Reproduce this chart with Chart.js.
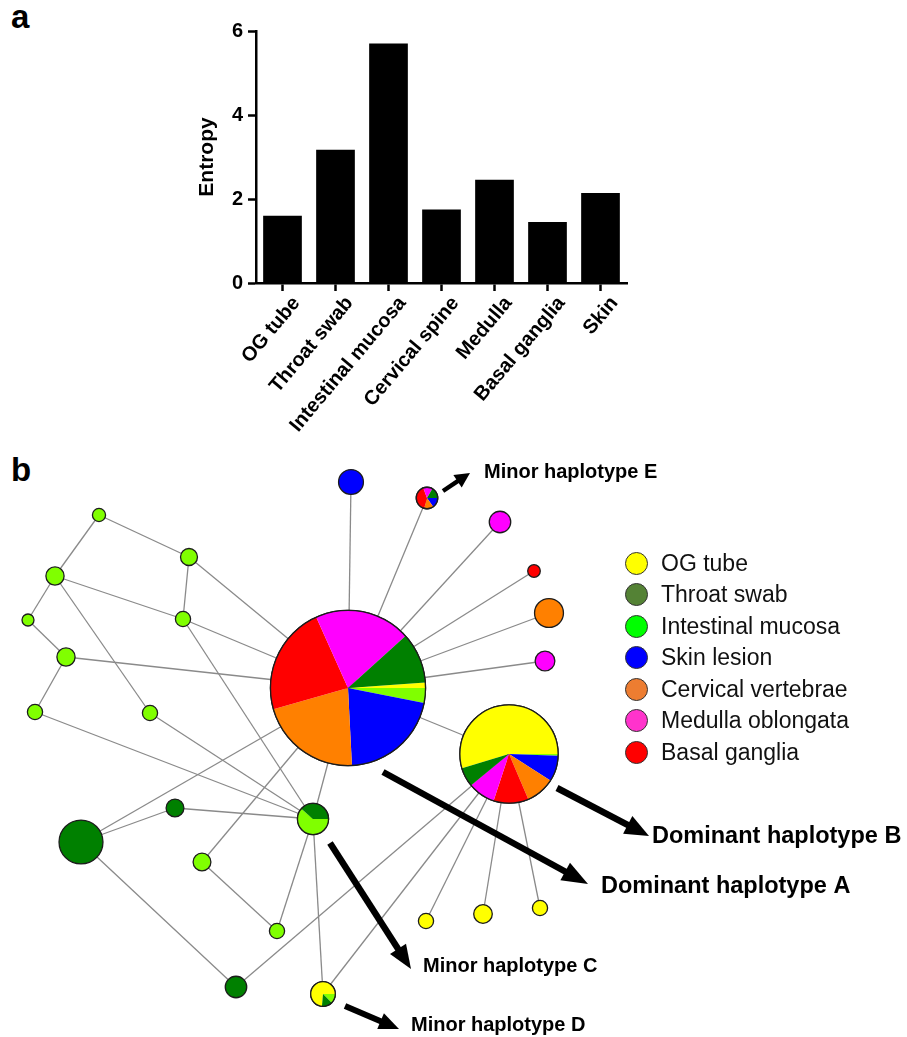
<!DOCTYPE html>
<html>
<head>
<meta charset="utf-8">
<title>Entropy and haplotype network</title>
<script src="https://cdn.jsdelivr.net/npm/chart.js@4.4.1/dist/chart.umd.min.js"></script>
<style>
  html, body { margin: 0; padding: 0; background: #fff; }
  body { position: relative; width: 907px; height: 1037px; overflow: hidden;
         font-family: "Liberation Sans", Arial, Helvetica, sans-serif; }
  #entropyChart { position: absolute; left: 0; top: 0; }
  #networkChart { position: absolute; left: 0; top: 450px; }
  .panel { position: absolute; left: 11px; font-weight: bold; font-size: 33px; line-height: 1; color: #000; }
  .legend-row { position: absolute; left: 625px; height: 30px; display: flex; align-items: center; }
  .legend-dot { width: 23px; height: 23px; border-radius: 50%; border: 1.5px solid #333; box-sizing: border-box; }
  .legend-text { position: absolute; left: 36px; white-space: nowrap; font-size: 23px; color: #111; }
</style>
</head>
<body>
<div class="panel" style="top:0px">a</div>
<div class="panel" style="top:453px">b</div>
<canvas id="entropyChart" width="907" height="450"></canvas>
<canvas id="networkChart" width="907" height="587"></canvas>
<div id="legend"></div>

<script>
// ---------- Panel a: Shannon entropy per sample ----------
const tissues = ['OG tube', 'Throat swab', 'Intestinal mucosa', 'Cervical spine', 'Medulla', 'Basal ganglia', 'Skin'];
const entropy = [1.6, 3.17, 5.7, 1.75, 2.46, 1.45, 2.14];
const entropyTicks = [0, 2, 4, 6];

// ---------- Panel b: haplotype network ----------
const sources = ['OG tube', 'Throat swab', 'Intestinal mucosa', 'Skin lesion', 'Cervical vertebrae', 'Medulla oblongata', 'Basal ganglia'];

// haplotype ids and their layout coordinates
const hapIds = ['A', 'B', 'h03', 'E', 'h05', 'h06', 'h07', 'h08', 'h09', 'h10', 'h11', 'h12', 'h13',
                'h14', 'h15', 'h16', 'h17', 'h18', 'C', 'h20', 'h21', 'h22', 'D', 'h24', 'h25', 'h26'];
const hapX = [348, 509, 351, 427, 500, 534, 549, 545, 99, 189, 55, 28, 183,
              66, 35, 150, 81, 175, 313, 202, 277, 236, 323, 426, 483, 540];
const hapY = [688, 754, 482, 498, 522, 571, 613, 661, 515, 557, 576, 620, 619,
              657, 712, 713, 842, 808, 819, 862, 931, 987, 994, 921, 914, 908];
// relative haplotype frequency
const hapFreq = [167, 67, 4.3, 3.2, 3.2, 1.1, 5.8, 2.7, 1.2, 2.0, 2.3, 1.0, 1.6,
                 2.3, 1.6, 1.6, 13.4, 2.2, 6.7, 2.2, 1.6, 3.2, 4.2, 1.6, 2.4, 1.6];

// share (%) of each source in each haplotype, columns follow `sources`
const hapComposition = [
  [1.1, 10.6, 3.1, 21.1, 21.4, 20.0, 22.7],   // A
  [54.7, 6.3, 0.6, 8.5, 9.5, 8.9, 11.5],      // B
  [0, 0, 0, 100, 0, 0, 0],
  [0, 16.7, 0, 15.3, 13.9, 13.9, 40.2],       // E
  [0, 0, 0, 0, 0, 100, 0],
  [0, 0, 0, 0, 0, 0, 100],
  [0, 0, 0, 0, 100, 0, 0],
  [0, 0, 0, 0, 0, 100, 0],
  [0, 0, 100, 0, 0, 0, 0],
  [0, 0, 100, 0, 0, 0, 0],
  [0, 0, 100, 0, 0, 0, 0],
  [0, 0, 100, 0, 0, 0, 0],
  [0, 0, 100, 0, 0, 0, 0],
  [0, 0, 100, 0, 0, 0, 0],
  [0, 0, 100, 0, 0, 0, 0],
  [0, 0, 100, 0, 0, 0, 0],
  [0, 100, 0, 0, 0, 0, 0],
  [0, 100, 0, 0, 0, 0, 0],
  [0, 38.6, 61.4, 0, 0, 0, 0],                // C
  [0, 0, 100, 0, 0, 0, 0],
  [0, 0, 100, 0, 0, 0, 0],
  [0, 100, 0, 0, 0, 0, 0],
  [73.6, 13.9, 12.5, 0, 0, 0, 0],             // D
  [100, 0, 0, 0, 0, 0, 0],
  [100, 0, 0, 0, 0, 0, 0],
  [100, 0, 0, 0, 0, 0, 0]
];

// mutational links between haplotypes (indices into hapIds)
const links = [
  [0, 2], [0, 3], [0, 4], [0, 5], [0, 6], [0, 7], [0, 1],
  [0, 9], [0, 12], [0, 13], [0, 18], [0, 19], [0, 16],
  [8, 9], [8, 10], [9, 12], [10, 12], [10, 11], [11, 13], [13, 14], [10, 15],
  [12, 18], [15, 18], [14, 18],
  [16, 17], [17, 18], [16, 21], [19, 20], [20, 18], [18, 22],
  [21, 1], [22, 1], [23, 1], [24, 1], [25, 1]
];

// ---------- styling ----------
const FONT = '"Liberation Sans", Arial, Helvetica, sans-serif';
const nodeColors = ['#FFFF00', '#008000', '#80FF00', '#0000FF', '#FF8000', '#FF00FF', '#FF0000'];
const legendColors = ['#FFFF00', '#548235', '#00FF00', '#0000FF', '#ED7D31', '#FF33CC', '#FF0000'];
// clockwise order in which the wedges of a pie node are laid out
const wedgeOrder = [0, 2, 3, 4, 6, 5, 1];
// angle (deg, clockwise from 3 o'clock) where the first wedge starts
const pieStart = { A: -4, B: 163, C: 0, D: 95, E: 0 };
const radiusOf = f => 6 * Math.sqrt(f);

// callout arrows and their captions, in layout coordinates
const callouts = [
  { text: 'Minor haplotype E',    from: [443, 491], to: [470, 473], at: [484, 478],  size: 20, shaft: 4.5, headLen: 15, headHalf: 7.5 },
  { text: 'Dominant haplotype A', from: [383, 772], to: [588, 884], at: [601, 893],  size: 23.5, shaft: 6.5, headLen: 26, headHalf: 10 },
  { text: 'Dominant haplotype B', from: [557, 788], to: [649, 836], at: [652, 843],  size: 23.5, shaft: 6.5, headLen: 24, headHalf: 10 },
  { text: 'Minor haplotype C',    from: [330, 843], to: [411, 969], at: [423, 972],  size: 20, shaft: 6.5, headLen: 24, headHalf: 9.5 },
  { text: 'Minor haplotype D',    from: [345, 1006], to: [399, 1029], at: [411, 1031], size: 20, shaft: 6, headLen: 20, headHalf: 8.5 }
];

// ---------- Panel a chart ----------
new Chart(document.getElementById('entropyChart'), {
  type: 'bar',
  data: {
    labels: tissues,
    datasets: [{
      data: entropy,
      backgroundColor: '#000',
      borderWidth: 0,
      barPercentage: 0.73,
      categoryPercentage: 1
    }]
  },
  options: {
    responsive: false,
    animation: false,
    events: [],
    layout: { padding: { left: 176, right: 280, top: 31, bottom: 7 } },
    plugins: { legend: { display: false }, tooltip: { enabled: false } },
    scales: {
      x: {
        grid: { drawOnChartArea: false, drawTicks: true, tickLength: 8, tickWidth: 2.5, tickColor: '#000', offset: false },
        border: { display: true, color: '#000', width: 2.5 },
        ticks: { color: '#000', autoSkip: false, maxRotation: 50, minRotation: 50, padding: 1, labelOffset: 14,
                 font: { family: FONT, weight: 'bold', size: 20 } },
        afterFit: s => { s.height = 160; }
      },
      y: {
        min: 0, max: 6,
        grid: { drawOnChartArea: false, drawTicks: true, tickLength: 8, tickWidth: 2.5, tickColor: '#000' },
        border: { display: true, color: '#000', width: 2.5 },
        ticks: { color: '#000', padding: 5, font: { family: FONT, weight: 'bold', size: 20 } },
        afterBuildTicks: s => { s.ticks = entropyTicks.map(v => ({ value: v })); },
        title: { display: true, text: 'Entropy', color: '#000', padding: { top: 19, bottom: 0 },
                 font: { family: FONT, weight: 'bold', size: 21 } },
        afterFit: s => { s.width = 80; }
      }
    }
  }
});

// ---------- Panel b chart ----------
const isMixed = hapComposition.map(c => c.filter(v => v > 0).length > 1);
const mainSource = hapComposition.map(c => c.indexOf(Math.max(...c)));

const linkDatasets = links.map(([a, b]) => ({
  type: 'line',
  data: [{ x: hapX[a], y: hapY[a] }, { x: hapX[b], y: hapY[b] }],
  borderColor: '#8a8a8a',
  borderWidth: 1.3,
  pointRadius: 0,
  fill: false,
  tension: 0,
  order: 2
}));

const nodeDataset = {
  type: 'bubble',
  data: hapX.map((x, i) => ({ x: x, y: hapY[i], r: radiusOf(hapFreq[i]) })),
  backgroundColor: hapX.map((_, i) => isMixed[i] ? 'rgba(0,0,0,0)' : nodeColors[mainSource[i]]),
  borderColor: '#1c1c1c',
  borderWidth: 1.3,
  hoverRadius: 0,
  order: 0
};

// draws the source wedges of mixed haplotypes on top of their bubbles
const pieWedges = {
  id: 'pieWedges',
  afterDatasetsDraw(chart) {
    const idx = chart.data.datasets.indexOf(nodeDataset);
    const meta = chart.getDatasetMeta(idx);
    const ctx = chart.ctx;
    meta.data.forEach((el, i) => {
      if (!isMixed[i]) return;
      const r = el.options.radius;
      const total = hapComposition[i].reduce((s, v) => s + v, 0);
      let a = (pieStart[hapIds[i]] || 0) * Math.PI / 180;
      ctx.save();
      wedgeOrder.forEach(src => {
        const share = hapComposition[i][src];
        if (!share) return;
        const sweep = share / total * Math.PI * 2;
        ctx.beginPath();
        ctx.moveTo(el.x, el.y);
        ctx.arc(el.x, el.y, r, a, a + sweep);
        ctx.closePath();
        ctx.fillStyle = nodeColors[src];
        ctx.fill();
        a += sweep;
      });
      ctx.beginPath();
      ctx.arc(el.x, el.y, r, 0, Math.PI * 2);
      ctx.lineWidth = 1.3;
      ctx.strokeStyle = '#1c1c1c';
      ctx.stroke();
      ctx.restore();
    });
  }
};

// callout arrows with captions
const calloutLayer = {
  id: 'calloutLayer',
  afterDraw(chart) {
    const { ctx, scales } = chart;
    const px = p => [scales.x.getPixelForValue(p[0]), scales.y.getPixelForValue(p[1])];
    ctx.save();
    callouts.forEach(c => {
      const [x0, y0] = px(c.from);
      const [x1, y1] = px(c.to);
      const len = Math.hypot(x1 - x0, y1 - y0);
      const ux = (x1 - x0) / len, uy = (y1 - y0) / len;
      const bx = x1 - ux * c.headLen, by = y1 - uy * c.headLen;
      ctx.strokeStyle = '#000';
      ctx.fillStyle = '#000';
      ctx.lineWidth = c.shaft;
      ctx.lineCap = 'butt';
      ctx.beginPath();
      ctx.moveTo(x0, y0);
      ctx.lineTo(bx + ux * 2, by + uy * 2);
      ctx.stroke();
      ctx.beginPath();
      ctx.moveTo(x1, y1);
      ctx.lineTo(bx - uy * c.headHalf, by + ux * c.headHalf);
      ctx.lineTo(bx + uy * c.headHalf, by - ux * c.headHalf);
      ctx.closePath();
      ctx.fill();
      const [tx, ty] = px(c.at);
      ctx.font = 'bold ' + c.size + 'px ' + FONT;
      ctx.textAlign = 'left';
      ctx.textBaseline = 'alphabetic';
      ctx.fillText(c.text, tx, ty);
    });
    ctx.restore();
  }
};

new Chart(document.getElementById('networkChart'), {
  type: 'bubble',
  data: { datasets: [...linkDatasets, nodeDataset] },
  options: {
    responsive: false,
    animation: false,
    events: [],
    layout: { padding: 0, autoPadding: false },
    plugins: { legend: { display: false }, tooltip: { enabled: false } },
    scales: {
      x: { type: 'linear', min: 0, max: 907, display: false },
      y: { type: 'linear', min: 450, max: 1037, reverse: true, display: false }
    }
  },
  plugins: [pieWedges, calloutLayer]
});

// ---------- legend for panel b ----------
const legendEl = document.getElementById('legend');
sources.forEach((name, i) => {
  const row = document.createElement('div');
  row.className = 'legend-row';
  row.style.top = (548 + i * 31.5) + 'px';
  const dot = document.createElement('div');
  dot.className = 'legend-dot';
  dot.style.background = legendColors[i];
  const label = document.createElement('span');
  label.className = 'legend-text';
  label.textContent = name;
  row.appendChild(dot);
  row.appendChild(label);
  legendEl.appendChild(row);
});
</script>
</body>
</html>
